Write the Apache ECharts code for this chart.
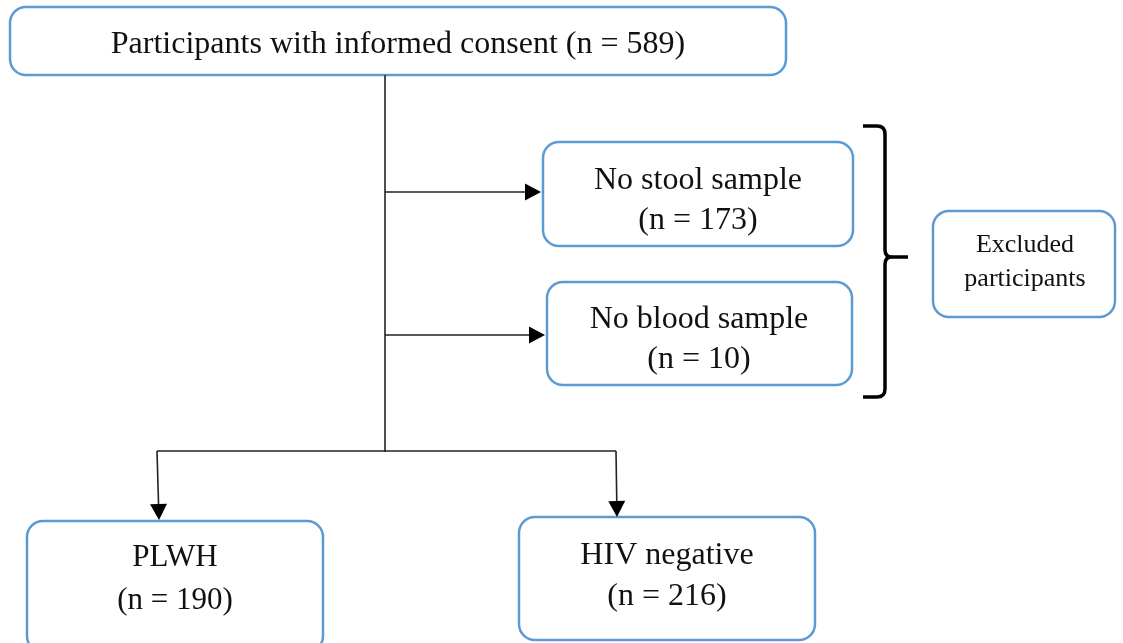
<!DOCTYPE html>
<html>
<head>
<meta charset="utf-8">
<script src="https://cdn.jsdelivr.net/npm/echarts@6/dist/echarts.min.js"></script>
<style>
  html, body { margin: 0; padding: 0; background: #fff; }
  #chart { width: 1123px; height: 643px; }
</style>
</head>
<body>
<div id="chart"></div>
<script>
// flow data: box titles and participant counts
const boxTitles = ['Participants with informed consent', 'No stool sample', 'No blood sample',
    'Excluded participants', 'PLWH', 'HIV negative']
const boxCounts = [589, 173, 10, null, 190, 216]

// layout in canvas units (x right, y down)
const boxRects = [[10, 7, 786, 75], [543, 142, 853, 246], [547, 282, 852, 385],
    [933, 211, 1115, 317], [27, 521, 323, 652], [519, 517, 815, 640]]
const textCenters = [[398, 45], [698, 201], [699, 340], [1025, 262], [175, 579], [667, 576]]
const fontSizes = [32, 32, 32, 26, 31, 32]
const lineHeights = [40, 40, 40, 34, 43, 41]

const connectors = [
    {pts: [[385, 75], [385, 452]], arrow: false},
    {pts: [[385, 192], [541, 192]], arrow: true},
    {pts: [[385, 335], [545, 335]], arrow: true},
    {pts: [[157, 451], [616, 451]], arrow: false},
    {pts: [[157, 451], [159, 520]], arrow: true},
    {pts: [[616, 451], [617, 517]], arrow: true}
]

function boxText(i) {
    let t = boxTitles[i]
    if (i === 0) return t + ' (n = ' + boxCounts[i] + ')'
    if (boxCounts[i] == null) return t.replace(' ', '\n')
    return t + '\n(n = ' + boxCounts[i] + ')'
}

const font = '"Liberation Serif", "DejaVu Serif", serif'

let chart = echarts.init(document.getElementById('chart'))

chart.setOption({
    animation: false,
    grid: {left: 0, right: 0, top: 0, bottom: 0},
    xAxis: {type: 'value', min: 0, max: 1123, show: false},
    yAxis: {type: 'value', min: 0, max: 643, inverse: true, show: false},
    series: [
        {
            // boxes
            type: 'custom',
            coordinateSystem: 'cartesian2d',
            data: boxRects.map((r, i) => [r[0], r[1], r[2], r[3], i]),
            renderItem: (params, api) => {
                let i = api.value(4)
                let p0 = api.coord([api.value(0), api.value(1)])
                let p1 = api.coord([api.value(2), api.value(3)])
                let c = api.coord(textCenters[i])
                return {
                    type: 'group',
                    children: [{
                        type: 'rect',
                        shape: {x: p0[0], y: p0[1], width: p1[0] - p0[0], height: p1[1] - p0[1], r: 16},
                        style: {fill: '#fff', stroke: '#5b9bd5', lineWidth: 2.5}
                    }, {
                        type: 'text',
                        x: c[0], y: c[1],
                        style: {
                            text: boxText(i),
                            font: fontSizes[i] + 'px ' + font,
                            lineHeight: lineHeights[i],
                            fill: '#111',
                            align: 'center',
                            verticalAlign: 'middle'
                        }
                    }]
                }
            }
        },
        {
            // connectors with arrows
            type: 'custom',
            coordinateSystem: 'cartesian2d',
            data: connectors.map((c, i) => [c.pts[0][0], c.pts[0][1], i]),
            renderItem: (params, api) => {
                let c = connectors[api.value(2)]
                let pts = c.pts.map(p => api.coord(p))
                let children = []
                let end = pts[pts.length - 1]
                let prev = pts[pts.length - 2]
                let dx = end[0] - prev[0], dy = end[1] - prev[1]
                let len = Math.sqrt(dx * dx + dy * dy)
                let ux = dx / len, uy = dy / len
                let headLen = 16, half = 8.5
                let linePts = pts.slice()
                if (c.arrow) {
                    linePts[linePts.length - 1] = [end[0] - ux * headLen, end[1] - uy * headLen]
                }
                children.push({
                    type: 'polyline',
                    shape: {points: linePts},
                    style: {stroke: '#222', lineWidth: 1.6, fill: null}
                })
                if (c.arrow) {
                    let bx = end[0] - ux * headLen, by = end[1] - uy * headLen
                    children.push({
                        type: 'polygon',
                        shape: {points: [end, [bx - uy * half, by + ux * half], [bx + uy * half, by - ux * half]]},
                        style: {fill: '#000'}
                    })
                }
                return {type: 'group', children: children}
            }
        },
        {
            // curly bracket grouping the excluded boxes
            type: 'custom',
            coordinateSystem: 'cartesian2d',
            data: [[885, 257]],
            renderItem: (params, api) => {
                let P = (x, y) => api.coord([x, y]).join(' ')
                let d = 'M' + P(863, 126) + ' L' + P(877, 126) + ' Q' + P(885, 126) + ' ' + P(885, 134)
                    + ' L' + P(885, 250) + ' Q' + P(885, 257) + ' ' + P(892, 257) + ' L' + P(908, 257)
                    + ' M' + P(892, 257) + ' Q' + P(885, 257) + ' ' + P(885, 264)
                    + ' L' + P(885, 389) + ' Q' + P(885, 397) + ' ' + P(877, 397) + ' L' + P(863, 397)
                return {
                    type: 'path',
                    shape: {pathData: d},
                    style: {stroke: '#000', lineWidth: 3.5, fill: null}
                }
            }
        }
    ]
})
</script>
</body>
</html>
